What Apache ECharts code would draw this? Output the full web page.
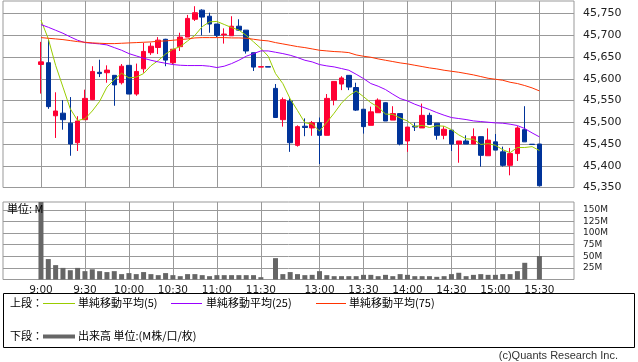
<!DOCTYPE html>
<html><head><meta charset="utf-8">
<script src="https://cdn.jsdelivr.net/npm/echarts@6/dist/echarts.min.js"></script>
<style>html,body{margin:0;padding:0;background:#fff}#c{width:638px;height:362px}</style>
</head><body><div id="c"></div>
<script>
const times = ['9:00','9:05','9:10','9:15','9:20','9:25','9:30','9:35','9:40','9:45','9:50','9:55','10:00','10:05','10:10','10:15','10:20','10:25','10:30','10:35','10:40','10:45','10:50','10:55','11:00','11:05','11:10','11:15','11:20','11:25','11:30','12:25','12:30','12:35','12:40','12:45','12:50','12:55','13:00','13:05','13:10','13:15','13:20','13:25','13:30','13:35','13:40','13:45','13:50','13:55','14:00','14:05','14:10','14:15','14:20','14:25','14:30','14:35','14:40','14:45','14:50','14:55','15:00','15:05','15:10','15:15','15:20','15:25','15:30'];
const openP  = [45633,45637,45515,45521,45498,45453,45506,45552,45615,45614,45608,45591,45631,45565,45623,45660,45672,45691,45637,45674,45696,45737,45758,45744,45726,45701,45699,45721,45712,45660,45627,45628,45578,45506,45549,45447,45491,45487,45499,45470,45551,45588,45608,45580,45530,45493,45522,45545,45505,45520,45457,45491,45487,45516,45498,45470,45482,45450,45457,45450,45467,45423,45455,45432,45401,45428,45483,45449.5,45450];
const closeP = [45639,45536,45526,45506,45450,45503,45555,45617,45612,45620,45586,45629,45565,45617,45663,45675,45689,45643,45668,45696,45739,45752,45742,45726,45700,45703,45721,45712,45664,45627,45628,45627,45511,45552,45453,45490,45488,45499,45470,45555,45594,45602,45581,45528,45490,45524,45551,45503,45520,45450,45489,45489,45516,45495,45470,45484,45450,45457,45450,45467,45424,45459,45436,45401,45428,45487,45455,45449,45354];
const lowP   = [45566,45531,45464,45483,45423,45434,45506,45551,45604,45591,45538,45587,45565,45561,45614,45655,45657,45629,45634,45664,45696,45733,45700,45706,45696,45681,45699,45710,45658,45618,45627,45627,45511,45490,45432,45444,45468,45469,45404,45470,45539,45574,45574,45526,45474,45493,45522,45503,45505,45447,45432,45480,45487,45495,45460,45461,45434,45407,45450,45450,45398,45423,45436,45398,45378,45411,45455,45449,45354];
const highP  = [45685,45691,45569,45551,45558,45514,45575,45629,45644,45631,45608,45634,45631,45635,45683,45683,45696,45692,45668,45706,45747,45767,45760,45752,45726,45716,45744,45737,45712,45660,45628,45628,45588,45557,45555,45493,45509,45503,45511,45565,45594,45606,45608,45591,45530,45536,45555,45546,45537,45520,45489,45499,45543,45522,45498,45491,45482,45457,45470,45486,45467,45486,45473,45444,45441,45491,45537,45449.5,45450];
const volume = [175,44,31,25,20,25,18,22,18,16,18,11.6,13.8,11.6,16,11.6,9.4,13.8,9.4,7.2,11.6,11.6,9.4,7.2,9.4,9.4,9.4,9.4,9.4,9.4,5,0,46,11.6,16,11.6,9.4,10,18,9.4,7.2,7.2,7.2,7.2,10,10,7.2,10,7.2,11.6,10,7.2,7.2,7.2,5.8,7.2,11.6,14.5,7.2,10,11.6,10,10,11.6,11.6,18,36,0,50.7];
const ma5  = [45735,45692,45631,45581,45531,45504,45508,45526,45548,45581,45598,45613,45602,45604,45612,45630,45642,45657,45668,45674,45687,45700,45720,45731,45732,45725,45718,45712,45700,45685,45670,45652,45612,45589,45554,45527,45499,45496,45480,45500,45521,45544,45561,45572,45559,45545,45535,45519,45518,45510,45503,45490,45493,45488,45492,45491,45483,45471,45462,45461,45449,45451,45447,45437,45430,45442,45442,45444,45435];
const ma25 = [45724.7,45718.6,45711.7,45704.8,45696.4,45688.7,45683.3,45681.8,45680.3,45678,45671.8,45665.7,45658,45652.7,45647.3,45642.7,45638.9,45635.8,45632.8,45631.2,45630.5,45630.5,45630.5,45629,45625.9,45629,45635,45642.7,45651.9,45658,45664.2,45664.2,45661.1,45658,45654.2,45648.9,45642.7,45638.9,45632.8,45629.7,45627.4,45623.6,45619.7,45610.5,45600.6,45589.1,45583,45575.3,45564.6,45554.6,45549.2,45541.6,45535.4,45529.3,45522.4,45516.3,45510.9,45508.6,45506.3,45503.2,45501.7,45500.2,45498.6,45497.9,45495.6,45492.5,45485.6,45475.6,45466.5];
const ma75 = [45694.8,45693.3,45691.8,45690.2,45687.9,45685.6,45684.1,45682.6,45681.8,45681,45681,45681.8,45682.6,45683.3,45684.1,45684.9,45686.4,45687.2,45688.7,45690.2,45691.8,45694.1,45694.8,45694.8,45694.8,45694.8,45694.1,45694.1,45693.3,45691,45688.7,45687.2,45683.3,45680.3,45677.2,45674.1,45671.8,45668.8,45665.7,45664.2,45662.7,45661.9,45660.3,45655,45651.9,45649.6,45645.8,45642.7,45639.7,45636.6,45634.3,45631.2,45628.2,45625.1,45622.8,45619.7,45617.4,45615.1,45612.1,45609,45605.2,45601.3,45599,45596.7,45592.1,45589.1,45584.5,45579.1,45572.2];
const timeTicks = ['9:00','9:30','10:00','10:30','11:00','11:30','13:00','13:30','14:00','14:30','15:00','15:30'];
const priceTicks = [45350,45400,45450,45500,45550,45600,45650,45700,45750];
const volumeTicks = [25,50,75,100,125,150];
const maNames = ['単純移動平均(5)','単純移動平均(25)','単純移動平均(75)'];
const maColors = ['#99cc00','#9900ff','#ff3300'];

const tickIdx = timeTicks.map(t => times.indexOf(t));
const candles = times.map((t,i) => [i, openP[i], closeP[i], lowP[i], highP[i]]);
const vols = times.map((t,i) => [i, volume[i]]);
const line = arr => times.map((t,i) => [i, arr[i]]);
const FONT = 'DejaVu Sans';
const CJK = '"Noto Sans CJK JP", sans-serif';
const GRID = '#999';

function xAxis(gi, showLabel) {
  return {
    type: 'value', gridIndex: gi, min: -5.18, max: 72.72,
    axisLine: {show: false}, axisTick: {show: false, customValues: tickIdx},
    splitLine: {show: true, lineStyle: {color: GRID, width: 1}},
    axisLabel: {show: showLabel, customValues: tickIdx, formatter: v => times[Math.round(v)],
      fontFamily: FONT, fontSize: 10.5, color: '#222', margin: 5}
  };
}

const chart = echarts.init(document.getElementById('c'), null, {renderer: 'canvas'});
chart.setOption({
  animation: false,
  grid: [
    {left: 3, top: 1, width: 571, height: 186.5, show: true, borderColor: GRID, borderWidth: 1},
    {left: 3, top: 202, width: 571, height: 77.5, show: true, borderColor: GRID, borderWidth: 1}
  ],
  xAxis: [xAxis(0, false), xAxis(1, true)],
  yAxis: [
    {type: 'value', gridIndex: 0, position: 'right', min: 45350, max: 45779, interval: 50,
      axisLine: {show: false}, axisTick: {show: true, length: 5, customValues: priceTicks, lineStyle: {color: GRID}},
      splitLine: {show: true, lineStyle: {color: GRID}},
      axisLabel: {customValues: priceTicks, formatter: v => v.toLocaleString('en-US'), fontFamily: FONT, fontSize: 11, color: '#222', margin: 9}},
    {type: 'value', gridIndex: 1, position: 'right', min: 0, max: 167, interval: 25,
      axisLine: {show: false}, axisTick: {show: true, length: 5, customValues: volumeTicks, lineStyle: {color: GRID}},
      splitLine: {show: true, lineStyle: {color: GRID}},
      axisLabel: {customValues: volumeTicks, formatter: v => v + 'M', fontFamily: FONT, fontSize: 9, color: '#222', margin: 9}}
  ],
  series: [
    {type: 'candlestick', xAxisIndex: 0, yAxisIndex: 0, data: candles, encode: {x: 0, y: [1,2,3,4]}, barWidth: 5,
      itemStyle: {color: '#ff0033', color0: '#003399', borderColor: '#ff0033', borderColor0: '#003399', borderColorDoji: '#003399', borderWidth: 1}, z: 3},
    {type: 'line', name: maNames[0], xAxisIndex: 0, yAxisIndex: 0, data: line(ma5), showSymbol: false, lineStyle: {color: maColors[0], width: 1}, z: 4},
    {type: 'line', name: maNames[1], xAxisIndex: 0, yAxisIndex: 0, data: line(ma25), showSymbol: false, lineStyle: {color: maColors[1], width: 1}, z: 4},
    {type: 'line', name: maNames[2], xAxisIndex: 0, yAxisIndex: 0, data: line(ma75), showSymbol: false, lineStyle: {color: maColors[2], width: 1}, z: 4},
    {type: 'bar', xAxisIndex: 1, yAxisIndex: 1, data: vols, barWidth: 5, itemStyle: {color: '#666666'}, clip: true}
  ],
  graphic: [
    {type: 'text', left: 7, top: 203, z: 10, style: {text: '単位: M', font: '11px ' + CJK, fill: '#000'}},
    {type: 'rect', shape: {x: 3.5, y: 293.5, width: 631, height: 54}, style: {fill: 'none', stroke: '#000', lineWidth: 1}},
    {type: 'text', x: 10, y: 303, style: {text: '上段：', font: '11px ' + CJK, fill: '#000', verticalAlign: 'middle'}},
    {type: 'line', shape: {x1: 43, y1: 303.5, x2: 75, y2: 303.5}, style: {stroke: maColors[0], lineWidth: 1}},
    {type: 'text', x: 78, y: 303, style: {text: maNames[0], font: '11px ' + CJK, fill: '#000', verticalAlign: 'middle'}},
    {type: 'line', shape: {x1: 171, y1: 303.5, x2: 202, y2: 303.5}, style: {stroke: maColors[1], lineWidth: 1}},
    {type: 'text', x: 206, y: 303, style: {text: maNames[1], font: '11px ' + CJK, fill: '#000', verticalAlign: 'middle'}},
    {type: 'line', shape: {x1: 316, y1: 303.5, x2: 346, y2: 303.5}, style: {stroke: maColors[2], lineWidth: 1}},
    {type: 'text', x: 349, y: 303, style: {text: maNames[2], font: '11px ' + CJK, fill: '#000', verticalAlign: 'middle'}},
    {type: 'text', x: 10, y: 336, style: {text: '下段：', font: '11px ' + CJK, fill: '#000', verticalAlign: 'middle'}},
    {type: 'line', shape: {x1: 43, y1: 336.5, x2: 75, y2: 336.5}, style: {stroke: '#666666', lineWidth: 4}},
    {type: 'text', x: 78, y: 336, style: {text: '出来高 単位:(M株/口/枚)', font: '11px ' + CJK, fill: '#000', verticalAlign: 'middle'}},
    {type: 'text', x: 618, y: 356, style: {text: '(c)Quants Research Inc.', font: '11px "Liberation Sans", sans-serif', fill: '#333', align: 'right', verticalAlign: 'middle'}}
  ]
});
</script></body></html>
